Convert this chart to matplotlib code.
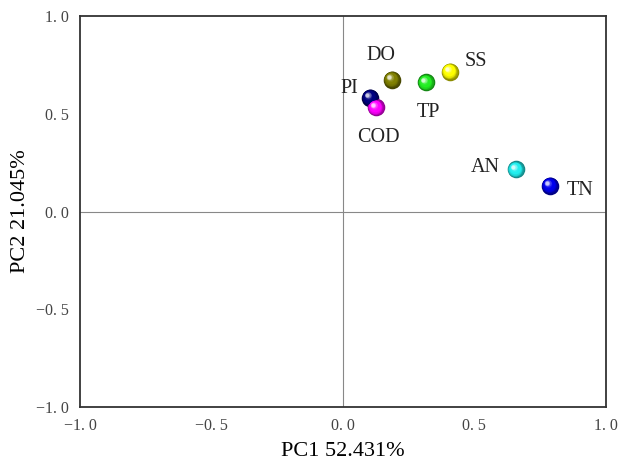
import matplotlib
matplotlib.use("Agg")
import matplotlib.pyplot as plt
import matplotlib.transforms as mtransforms
import numpy as np
from matplotlib.colors import to_rgb

names = ["PI", "COD", "DO", "TP", "SS", "AN", "TN"]
pc1 = [0.103, 0.125, 0.186, 0.316, 0.407, 0.658, 0.787]
pc2 = [0.583, 0.532, 0.675, 0.660, 0.716, 0.215, 0.133]
colors = ["#000080", "#ff00ff", "#808000", "#22ee22", "#ffff00", "#22eeee", "#0000ee"]
label_offsets = {"PI": (-15, 6.5), "COD": (2, -21.5), "DO": (-8, 17.5), "TP": (2, -21.5),
                 "SS": (19, 7.5), "AN": (-22, 1.5), "TN": (22, -3.5)}
ticks = [-1.0, -0.5, 0.0, 0.5, 1.0]
tick_labels = ["\u22121. 0", "\u22120. 5", "0. 0", "0. 5", "1. 0"]

fig = plt.figure(figsize=(6.22, 4.65), dpi=100)
ax = fig.add_axes([0.1286, 0.1247, 0.8454, 0.8409])
ax.set_xlim(-1, 1)
ax.set_ylim(-1, 1)
ax.axhline(0, color="#888888", lw=0.8, zorder=1)
ax.axvline(0, color="#888888", lw=0.8, zorder=1)

n = 14
base_size = 160
for name, x, y, c in zip(names, pc1, pc2, colors):
    rgb = np.array(to_rgb(c))
    dark = rgb * 0.55
    ax.scatter([x], [y], s=base_size, color=dark, zorder=3, linewidths=0)
    for k in range(1, n):
        f = k / n
        size = base_size * (1 - 0.85 * f) ** 2 * 0.92
        if f < 0.6:
            col = dark + (rgb - dark) * min(1, f / 0.35)
        else:
            col = rgb + (np.ones(3) - rgb) * ((f - 0.6) / 0.4) ** 1.2
        col = np.clip(col, 0, 1)
        off = mtransforms.ScaledTranslation(-2.2 * f / 72, 2.2 * f / 72, fig.dpi_scale_trans)
        ax.scatter([x], [y], s=size, color=col, zorder=3 + k * 0.01,
                   linewidths=0, transform=ax.transData + off)
    dx, dy = label_offsets[name]
    ax.annotate(name, (x, y), xytext=(dx, dy), textcoords="offset points",
                ha="center", va="center", fontsize=14.5, family="Liberation Serif",
                color="#222222")

ax.set_xticks(ticks)
ax.set_yticks(ticks)
ax.set_xticklabels(tick_labels, family="Liberation Serif", fontsize=11.5, color="#444444")
ax.set_yticklabels(tick_labels, family="Liberation Serif", fontsize=11.5, color="#444444")
ax.tick_params(length=0, pad=8)
for sp in ax.spines.values():
    sp.set_linewidth(1.3)
    sp.set_color("#333333")
ax.set_xlabel("PC1 52.431%", family="Liberation Serif", fontsize=16, labelpad=6)
ax.set_ylabel("PC2 21.045%", family="Liberation Serif", fontsize=16, labelpad=4)
fig.savefig("out.png", dpi=100)
